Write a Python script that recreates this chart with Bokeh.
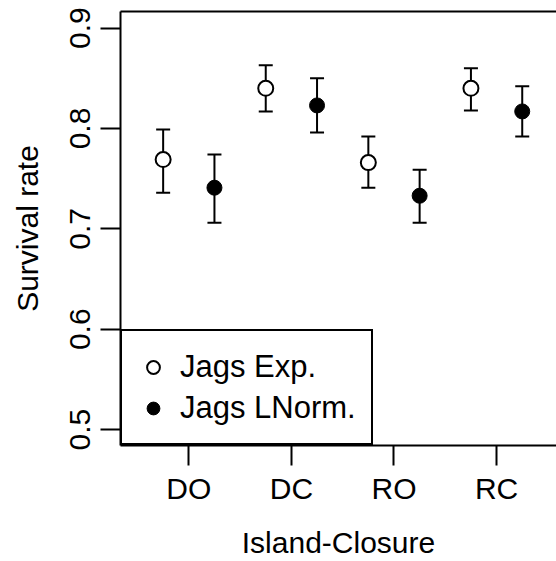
from bokeh.plotting import figure
from bokeh.models import (Whisker, TeeHead, ColumnDataSource, FixedTicker, LinearAxis,
                          Legend, LegendItem, Range1d)
from bokeh.embed import file_html
from bokeh.resources import INLINE

categories = ["DO", "DC", "RO", "RC"]
exp_mean = [0.769, 0.840, 0.766, 0.840]
exp_lower = [0.736, 0.817, 0.741, 0.818]
exp_upper = [0.799, 0.863, 0.792, 0.860]
lnorm_mean = [0.741, 0.823, 0.733, 0.817]
lnorm_lower = [0.706, 0.796, 0.706, 0.792]
lnorm_upper = [0.774, 0.850, 0.759, 0.842]
y_ticks = [0.5, 0.6, 0.7, 0.8, 0.9]

FONT = "Liberation Sans"
FS = "30px"

pos = [i + 1 for i in range(len(categories))]
offset = 0.25

src_exp = ColumnDataSource(dict(x=[v - offset for v in pos], y=exp_mean,
                                lower=exp_lower, upper=exp_upper))
src_ln = ColumnDataSource(dict(x=[v + offset for v in pos], y=lnorm_mean,
                               lower=lnorm_lower, upper=lnorm_upper))

p = figure(width=556, height=561, output_backend="svg", toolbar_location=None,
           x_range=Range1d(0.3343, 4.584), y_range=Range1d(0.48413, 0.91658),
           min_border_left=120, min_border_right=0, min_border_top=11,
           min_border_bottom=114)
p.grid.visible = False
p.outline_line_color = None
p.background_fill_color = "white"
p.border_fill_color = "white"

for ax in (p.xaxis[0], p.yaxis[0]):
    ax.axis_line_width = 2
    ax.axis_line_color = "black"
    ax.major_tick_line_width = 2
    ax.major_tick_line_color = "black"
    ax.major_tick_out = 20
    ax.major_tick_in = 0
    ax.minor_tick_line_color = None
    ax.major_label_text_font = FONT
    ax.major_label_text_font_size = FS
    ax.major_label_text_color = "black"
    ax.axis_label_text_font = FONT
    ax.axis_label_text_font_size = FS
    ax.axis_label_text_font_style = "normal"
    ax.axis_label_text_color = "black"

p.xaxis.ticker = FixedTicker(ticks=pos)
p.xaxis.major_label_overrides = {v: c for v, c in zip(pos, categories)}
p.xaxis.axis_label = "Island-Closure"
p.xaxis.major_label_standoff = 6
p.xaxis.axis_label_standoff = 18

p.yaxis.ticker = FixedTicker(ticks=y_ticks)
p.yaxis.major_label_orientation = "vertical"
p.yaxis.axis_label = "Survival rate"
p.yaxis.major_label_standoff = 10
p.yaxis.axis_label_standoff = 24

top = LinearAxis(ticker=FixedTicker(ticks=[]), major_label_text_font_size="0px",
                 major_tick_out=0, major_tick_in=0, minor_tick_out=0, minor_tick_in=0,
                 axis_line_width=2, axis_line_color="black", major_label_standoff=0)
p.add_layout(top, "above")

for src in (src_exp, src_ln):
    w = Whisker(base="x", lower="lower", upper="upper", source=src,
                line_width=2, line_color="black",
                upper_head=TeeHead(size=14, line_width=2, line_color="black"),
                lower_head=TeeHead(size=14, line_width=2, line_color="black"))
    p.add_layout(w)

r_exp = p.scatter(x="x", y="y", source=src_exp, marker="circle", size=15,
                  fill_color="white", line_color="black", line_width=2)
r_ln = p.scatter(x="x", y="y", source=src_ln, marker="circle", size=15,
                 fill_color="black", line_color="black", line_width=1)

legend = Legend(items=[LegendItem(label="Jags Exp.", renderers=[r_exp]),
                       LegendItem(label="Jags LNorm.", renderers=[r_ln])],
                location="bottom_left", margin=0, padding=15, spacing=0,
                glyph_width=32, glyph_height=32, label_standoff=11,
                label_height=41,
                label_text_font=FONT, label_text_font_size="31px",
                label_text_color="black",
                border_line_color="black", border_line_width=2,
                border_line_alpha=1.0,
                background_fill_color="white", background_fill_alpha=1)
p.add_layout(legend)

open("out.html", "w").write(file_html(p, INLINE))
